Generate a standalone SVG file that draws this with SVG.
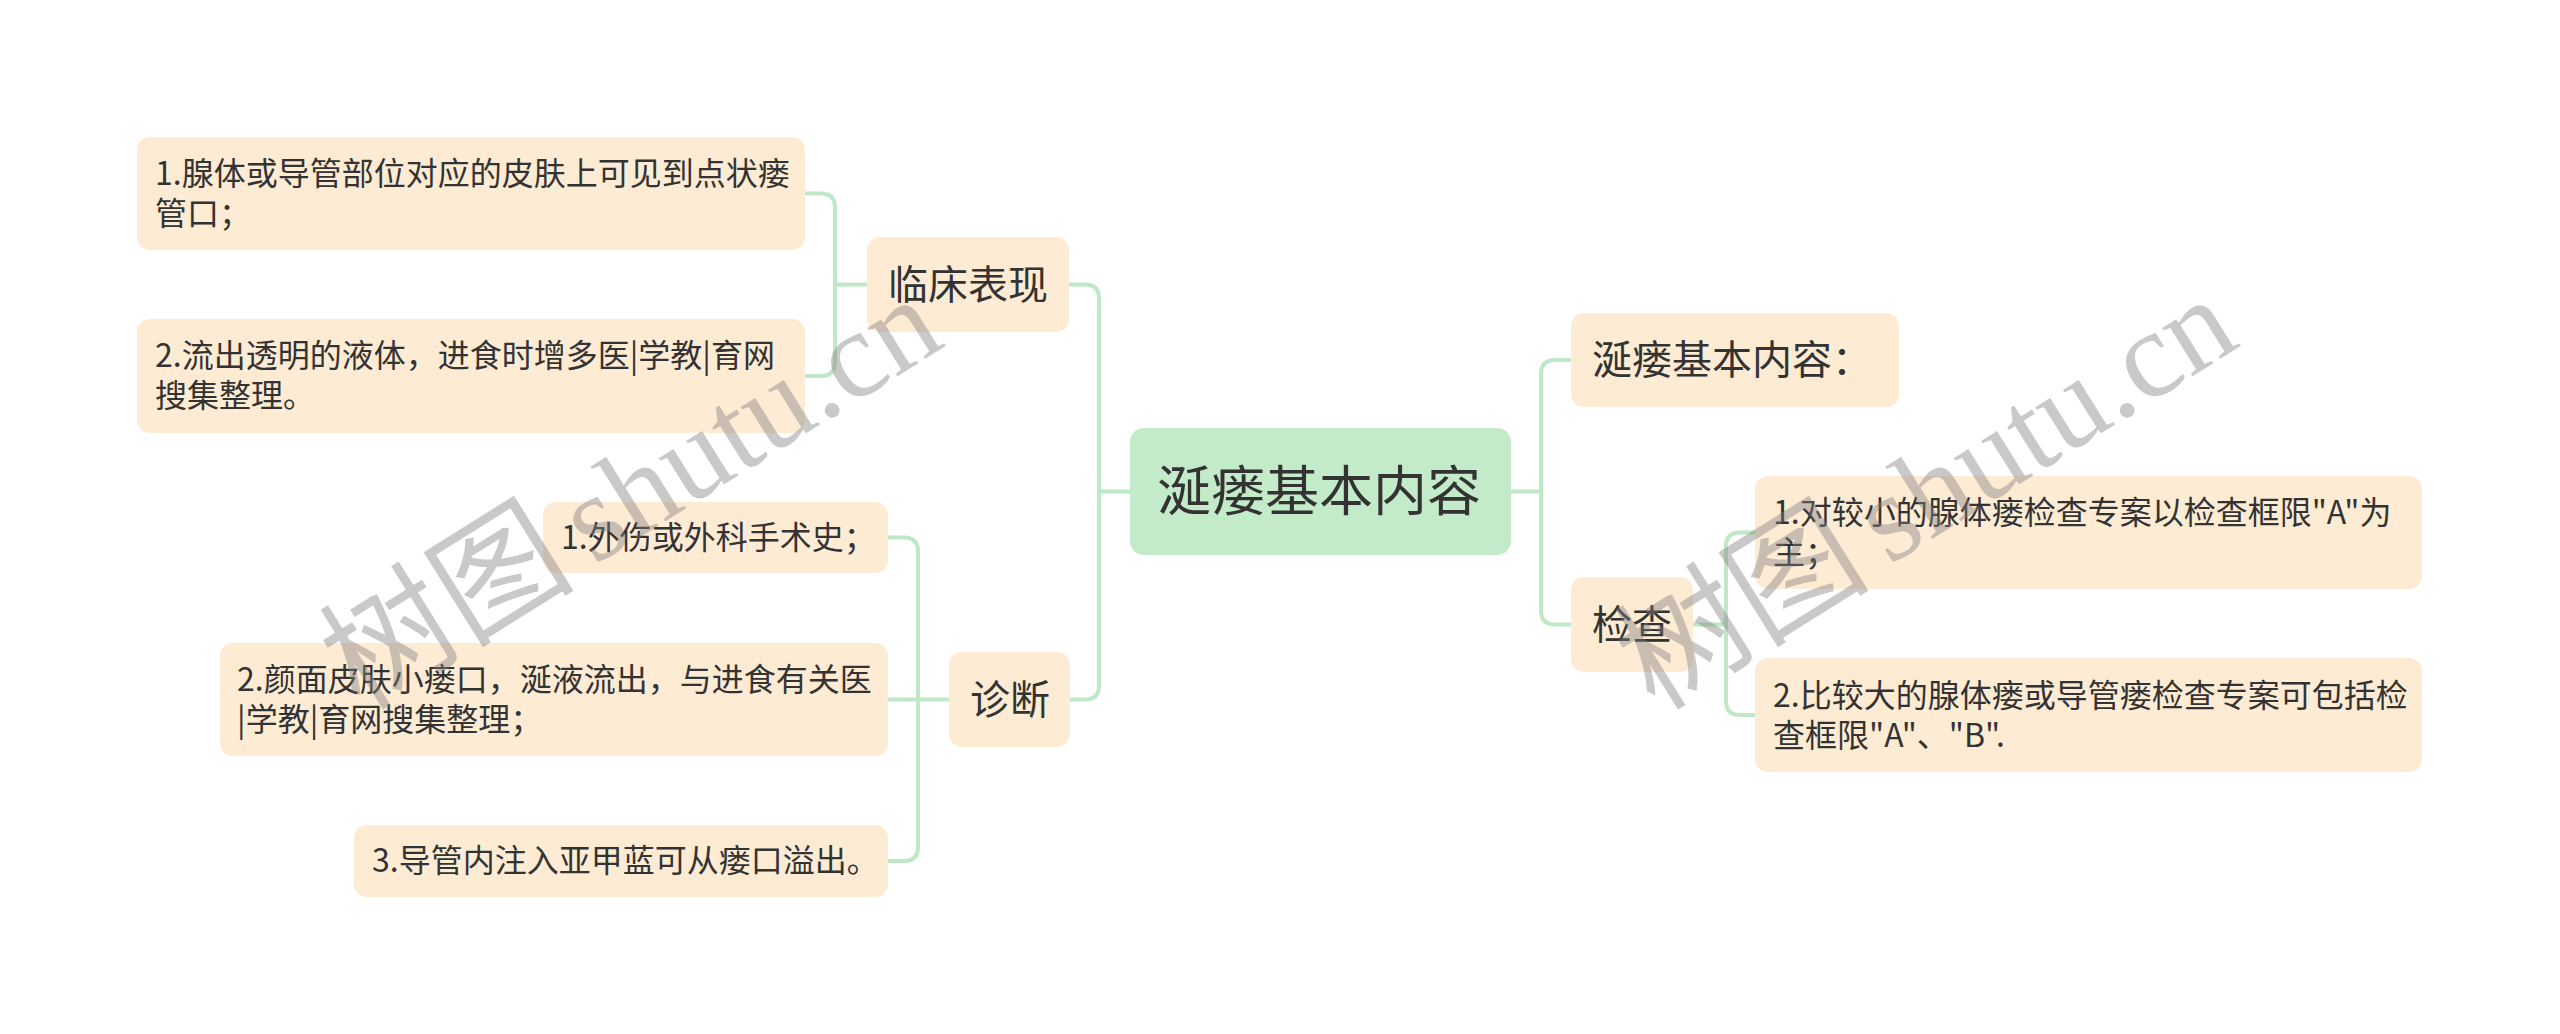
<svg xmlns="http://www.w3.org/2000/svg" width="2560" height="1034" viewBox="0 0 2560 1034">
<style>
.box{fill:#fdebd4;}
.root{fill:#c4ebc9;}
.t{font-family:"Noto Sans CJK SC","Noto Sans",sans-serif;fill:#333333;}
.s{font-size:32px;}
.m{font-size:40px;}
.r{font-size:54px;}
.ln{fill:none;stroke:#bfe8c6;stroke-width:4;}
.wm{font-family:"Liberation Serif","Noto Sans CJK SC",serif;font-size:124px;fill:#808080;opacity:0.42;}
.wc{font-family:"Noto Sans CJK SC",sans-serif;font-size:128px;}
</style>
<rect width="2560" height="1034" fill="#ffffff"/>
<g id="connectors">
<path class="ln" d="M1130,491.5 H1099 M1069,284.5 H1085 Q1099,284.5 1099,298.5 V685.5 Q1099,699.5 1085,699.5 H1070"/>
<path class="ln" d="M867,284.5 H835 M805,193.5 H821 Q835,193.5 835,207.5 V362 Q835,376 821,376 H805"/>
<path class="ln" d="M949,699.5 H888 M888,537.5 H904 Q918,537.5 918,551.5 V847 Q918,861 904,861 H888"/>
<path class="ln" d="M1511,491.5 H1541 M1571,360 H1555 Q1541,360 1541,374 V610.5 Q1541,624.5 1555,624.5 H1571"/>
<path class="ln" d="M1693,624.5 H1726 M1755,532.5 H1740 Q1726,532.5 1726,546.5 V701 Q1726,715 1740,715 H1755"/>
</g>
<g id="root">
<rect class="root" x="1130" y="428" width="381" height="127" rx="14"/>
<text class="t r" x="1157" y="510.5">涎瘘基本内容</text>
</g>
<g id="n-linchuang">
<rect class="box" x="867" y="237" width="202" height="95" rx="13"/>
<text class="t m" x="888" y="298.5">临床表现</text>
</g>
<g id="n-a1">
<rect class="box" x="137" y="137" width="668" height="113" rx="13"/>
<text class="t s" x="155" y="185">1.腺体或导管部位对应的皮肤上可见到点状瘘</text>
<text class="t s" x="155" y="225">管口；</text>
</g>
<g id="n-a2">
<rect class="box" x="137" y="319" width="668" height="114" rx="13"/>
<text class="t s" x="155" y="367">2.流出透明的液体，进食时增多医|学教|育网</text>
<text class="t s" x="155" y="407">搜集整理。</text>
</g>
<g id="n-zhenduan">
<rect class="box" x="949" y="652" width="121" height="95" rx="13"/>
<text class="t m" x="970" y="713.5">诊断</text>
</g>
<g id="n-d1">
<rect class="box" x="543" y="502" width="345" height="71" rx="13"/>
<text class="t s" x="561" y="548.5">1.外伤或外科手术史；</text>
</g>
<g id="n-d2">
<rect class="box" x="220" y="643" width="668" height="113" rx="13"/>
<text class="t s" x="237" y="691">2.颜面皮肤小瘘口，涎液流出，与进食有关医</text>
<text class="t s" x="237" y="731">|学教|育网搜集整理；</text>
</g>
<g id="n-d3">
<rect class="box" x="354" y="825" width="534" height="72" rx="13"/>
<text class="t s" x="372" y="872">3.导管内注入亚甲蓝可从瘘口溢出。</text>
</g>
<g id="n-r1">
<rect class="box" x="1571" y="313" width="328" height="94" rx="13"/>
<text class="t m" x="1592" y="374">涎瘘基本内容：</text>
</g>
<g id="n-jiancha">
<rect class="box" x="1571" y="577" width="122" height="95" rx="13"/>
<text class="t m" x="1592" y="638.5">检查</text>
</g>
<g id="n-r2a">
<rect class="box" x="1755" y="476" width="667" height="113" rx="13"/>
<text class="t s" x="1773" y="524">1.对较小的腺体瘘检查专案以检查框限"A"为</text>
<text class="t s" x="1773" y="564">主；</text>
</g>
<g id="n-r2b">
<rect class="box" x="1755" y="658" width="667" height="114" rx="13"/>
<text class="t s" x="1773" y="706.5">2.比较大的腺体瘘或导管瘘检查专案可包括检</text>
<text class="t s" x="1773" y="746.5">查框限"A"、"B".</text>
</g>
<g id="watermarks">
<text class="wm" transform="translate(360,712) rotate(-32)"><tspan class="wc">树图</tspan><tspan dx="20">shutu.cn</tspan></text>
<text class="wm" transform="translate(1655,712) rotate(-32)"><tspan class="wc">树图</tspan><tspan dx="20">shutu.cn</tspan></text>
</g>
</svg>
